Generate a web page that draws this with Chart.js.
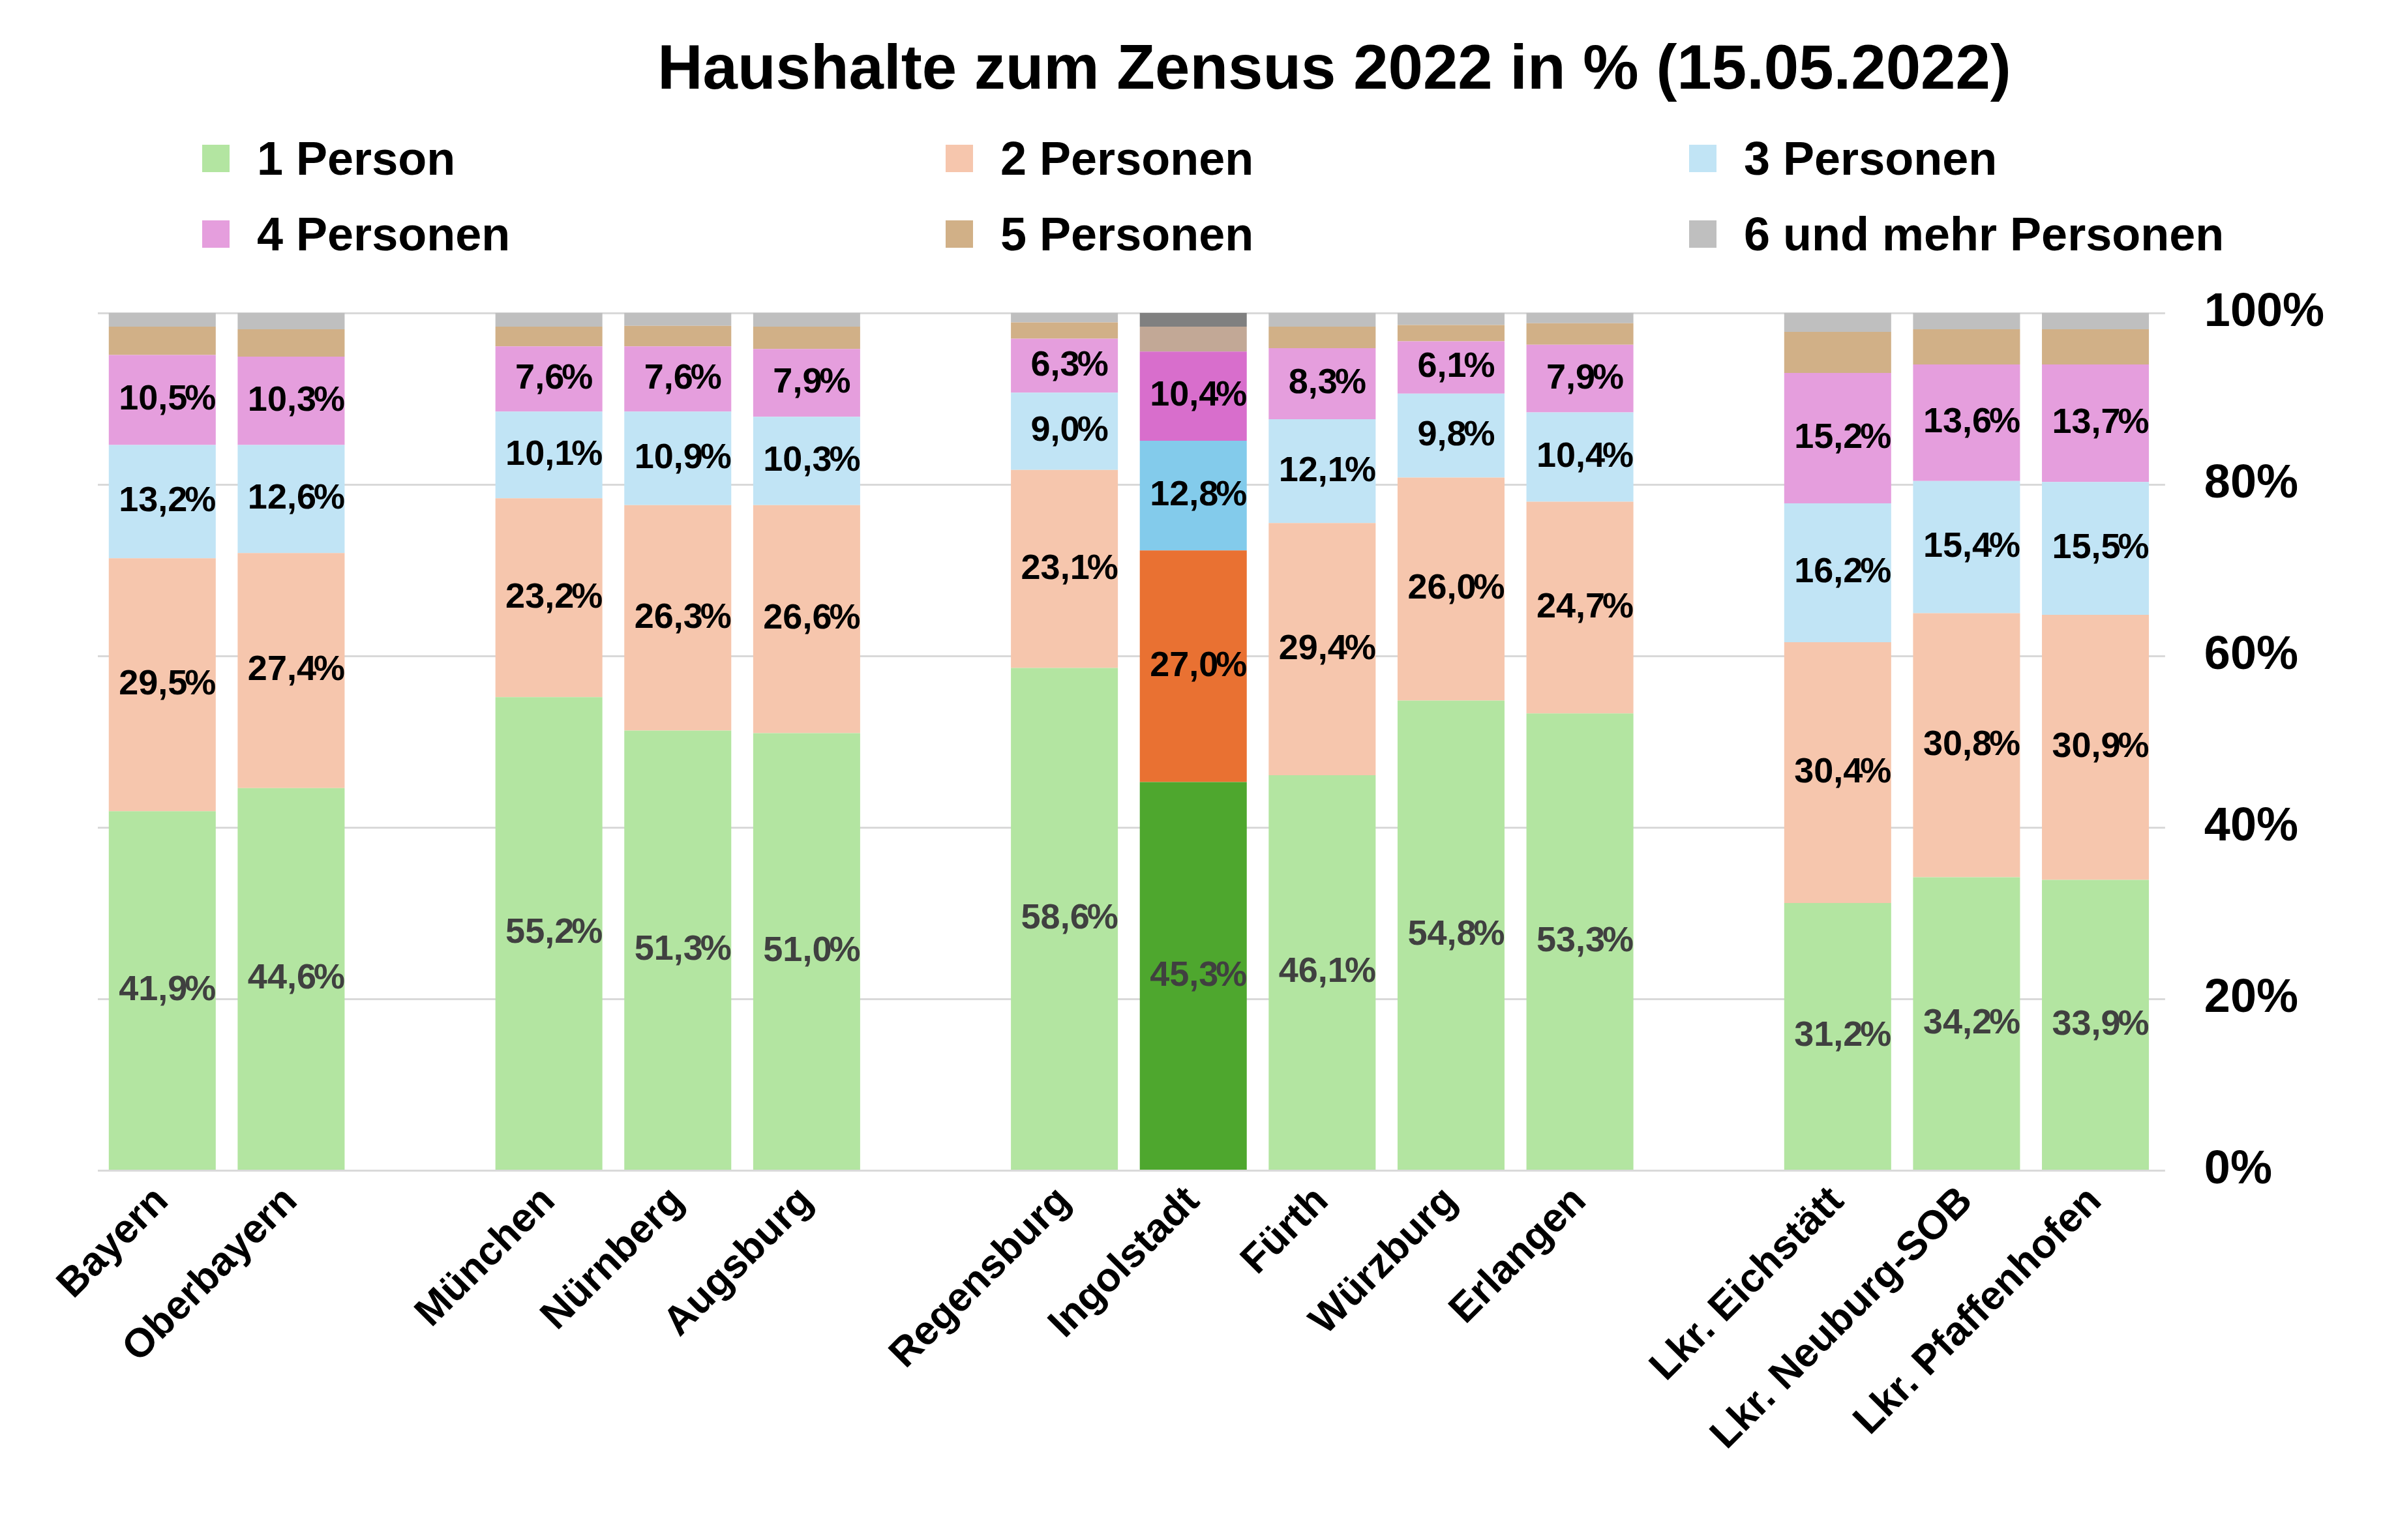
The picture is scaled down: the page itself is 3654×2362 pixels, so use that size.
<!DOCTYPE html>
<html><head><meta charset="utf-8">
<script src="https://cdn.jsdelivr.net/npm/chart.js@4"></script>
<style>
body{margin:0;background:#fff;font-family:"Liberation Sans",Arial,sans-serif;}
#wrap{position:relative;width:3654px;height:2362px;}
#title{position:absolute;top:48px;left:0;width:4092px;text-align:center;font-weight:bold;font-size:96px;}
.lg{position:absolute;font-weight:bold;font-size:72px;display:flex;align-items:center;}
.lg span{display:inline-block;width:42px;height:42px;margin-right:42px;}
canvas{position:absolute;left:0;top:0;}
</style></head><body>
<div id="wrap">
<div id="title">Haushalte zum Zensus 2022 in % (15.05.2022)</div>
<div id="legend"></div>
<canvas id="c" width="3654" height="2362"></canvas>
</div>
<script>
const categories = ["Bayern","Oberbayern","","München","Nürnberg","Augsburg","","Regensburg","Ingolstadt","Fürth","Würzburg","Erlangen","","Lkr. Eichstätt","Lkr. Neuburg-SOB","Lkr. Pfaffenhofen"];
const seriesNames = ["1 Person","2 Personen","3 Personen","4 Personen","5 Personen","6 und mehr Personen"];
const p1 = [41.9,44.6,null,55.2,51.3,51.0,null,58.6,45.3,46.1,54.8,53.3,null,31.2,34.2,33.9];
const p2 = [29.5,27.4,null,23.2,26.3,26.6,null,23.1,27.0,29.4,26.0,24.7,null,30.4,30.8,30.9];
const p3 = [13.2,12.6,null,10.1,10.9,10.3,null,9.0,12.8,12.1,9.8,10.4,null,16.2,15.4,15.5];
const p4 = [10.5,10.3,null,7.6,7.6,7.9,null,6.3,10.4,8.3,6.1,7.9,null,15.2,13.6,13.7];
const p5 = [3.3,3.2,null,2.3,2.4,2.6,null,1.9,2.9,2.5,1.9,2.5,null,4.8,4.1,4.1];
const p6 = [1.6,1.9,null,1.6,1.5,1.6,null,1.1,1.6,1.6,1.4,1.2,null,2.2,1.9,1.9];
const yTicks = [0,20,40,60,80,100];

const baseColors = ["#B3E5A1","#F6C6AD","#C1E4F5","#E59EDD","#D1B087","#BFBFBF"];
const hiColors = ["#4EA72E","#E97132","#83CBEB","#D86ECC","#C2A896","#808080"];
const hiIndex = categories.indexOf("Ingolstadt");
const values = [p1,p2,p3,p4,p5,p6];

// legend (3 columns, 2 rows)
const legendCols = [310,1450,2590];
const legendRows = [202,318];
const lg = document.getElementById("legend");
seriesNames.forEach((n,i) => {
  const d = document.createElement("div");
  d.className = "lg";
  d.style.left = legendCols[i%3] + "px";
  d.style.top = legendRows[Math.floor(i/3)] + "px";
  d.innerHTML = `<span style="background:${baseColors[i]}"></span>${n}`;
  lg.appendChild(d);
});

const labelPlugin = {
  id: "segLabels",
  afterDatasetsDraw(chart) {
    const ctx = chart.ctx;
    ctx.save();
    ctx.font = "bold 54px 'Liberation Sans', Arial";
    ctx.textAlign = "center";
    ctx.textBaseline = "middle";
    for (let d = 0; d < 4; d++) {
      const meta = chart.getDatasetMeta(d);
      meta.data.forEach((bar, i) => {
        const v = values[d][i];
        if (v == null) return;
        ctx.fillStyle = d === 0 ? "#404040" : "#000";
        ctx.fillText(v.toFixed(1).replace(".", ","), bar.x - 14, (bar.y + bar.base) / 2);
        ctx.fillText("%", bar.x + ctx.measureText(v.toFixed(1)).width / 2 + 6, (bar.y + bar.base) / 2);
      });
    }
    ctx.restore();
  }
};

new Chart(document.getElementById("c"), {
  type: "bar",
  data: {
    labels: categories,
    datasets: seriesNames.map((n, d) => ({
      label: n,
      data: values[d],
      backgroundColor: categories.map((c, i) => i === hiIndex ? hiColors[d] : baseColors[d]),
      borderWidth: 0,
      barPercentage: 0.83,
      categoryPercentage: 1
    }))
  },
  options: {
    responsive: false,
    animation: false,
    layout: { padding: { top: 480, left: 150, right: 30, bottom: 120 } },
    plugins: { legend: { display: false }, tooltip: { enabled: false } },
    scales: {
      x: {
        stacked: true,
        grid: { display: false },
        border: { display: false },
        ticks: { maxRotation: 45, minRotation: 45, color: "#000", font: { size: 62, weight: "bold", family: "'Liberation Sans', Arial" } }
      },
      y: {
        stacked: true,
        position: "right",
        min: 0, max: 100,
        afterBuildTicks: s => { s.ticks = yTicks.map(v => ({ value: v })); },
        grid: { color: "#D9D9D9", lineWidth: 3 },
        border: { display: false },
        ticks: { padding: 60, color: "#000", callback: v => v + "%", font: { size: 72, weight: "bold", family: "'Liberation Sans', Arial" } }
      }
    }
  },
  plugins: [labelPlugin]
});
</script>
</body></html>
